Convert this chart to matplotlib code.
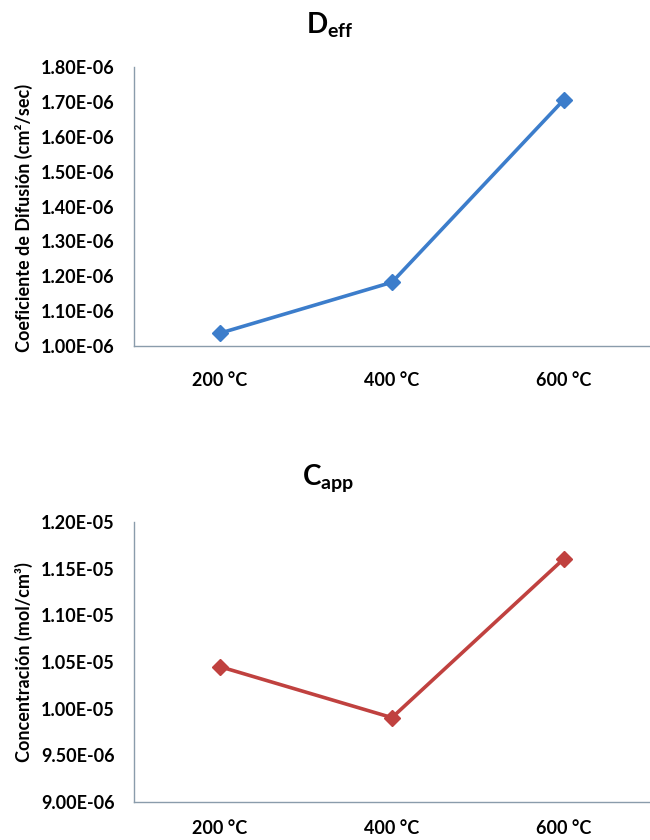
import matplotlib
matplotlib.use("Agg")
import matplotlib.pyplot as plt
from matplotlib.ticker import FuncFormatter

categories = ["200 °C", "400 °C", "600 °C"]
deff_values = [1.037e-06, 1.183e-06, 1.707e-06]
capp_values = [1.045e-05, 0.9904e-05, 1.1607e-05]
deff_ticks = [1.0e-06, 1.1e-06, 1.2e-06, 1.3e-06, 1.4e-06, 1.5e-06, 1.6e-06, 1.7e-06, 1.8e-06]
capp_ticks = [9.0e-06, 9.5e-06, 1.0e-05, 1.05e-05, 1.1e-05, 1.15e-05, 1.2e-05]

plt.rcParams['font.family'] = ['Lato', 'DejaVu Sans']
plt.rcParams['font.weight'] = 'bold'
plt.rcParams['mathtext.fontset'] = 'custom'
plt.rcParams['mathtext.rm'] = 'Lato:bold'
plt.rcParams['mathtext.bf'] = 'Lato:bold'

fig = plt.figure(figsize=(6.5, 8.4), dpi=100)
fig.patch.set_facecolor('white')

def fmt(v, pos):
    return "%.2E" % v

def style(ax, ticks, ylim, xpad):
    x = list(range(len(categories)))
    ax.set_xlim(-0.5, 2.5)
    ax.set_ylim(*ylim)
    ax.set_yticks(ticks)
    ax.yaxis.set_major_formatter(FuncFormatter(fmt))
    ax.set_xticks(x)
    ax.set_xticklabels(categories)
    for s in ['top', 'right']:
        ax.spines[s].set_visible(False)
    for s in ['left', 'bottom']:
        ax.spines[s].set_color('#8a9cab')
        ax.spines[s].set_linewidth(1.0)
    ax.tick_params(axis='y', length=0, pad=14, labelsize=13)
    ax.tick_params(axis='x', length=0, pad=xpad, labelsize=13)
    for lab in ax.get_xticklabels() + ax.get_yticklabels():
        lab.set_fontweight('bold')

ax1 = fig.add_axes([0.206, 0.588, 0.794, 0.332])
ax1.plot(range(3), deff_values, color='#3C7DCB', lw=2.6, marker='D', ms=8,
         markerfacecolor='#3C7DCB', markeredgecolor='#3C7DCB')
style(ax1, deff_ticks, (1.0e-06, 1.8e-06), 19)
ax1.set_ylabel("Coeficiente de Difusión (cm²/sec)", fontsize=13, fontweight='bold', labelpad=4)
ax1.yaxis.set_label_coords(-0.195, 0.46)
fig.text(0.507, 1 - 33 / 840, r"D$_{\mathbf{eff}}$", ha='center', va='baseline', fontsize=20, fontweight='bold')

ax2 = fig.add_axes([0.206, 0.0452, 0.794, 0.3334])
ax2.plot(range(3), capp_values, color='#C0413F', lw=2.6, marker='D', ms=8,
         markerfacecolor='#C0413F', markeredgecolor='#C0413F')
style(ax2, capp_ticks, (9.0e-06, 1.2e-05), 13)
ax2.set_ylabel("Concentración (mol/cm³)", fontsize=13, fontweight='bold', labelpad=4)
ax2.yaxis.set_label_coords(-0.195, 0.5)
fig.text(0.505, 1 - 485 / 840, r"C$_{\mathbf{app}}$", ha='center', va='baseline', fontsize=20, fontweight='bold')

fig.savefig("out.png", dpi=100, facecolor='white')
